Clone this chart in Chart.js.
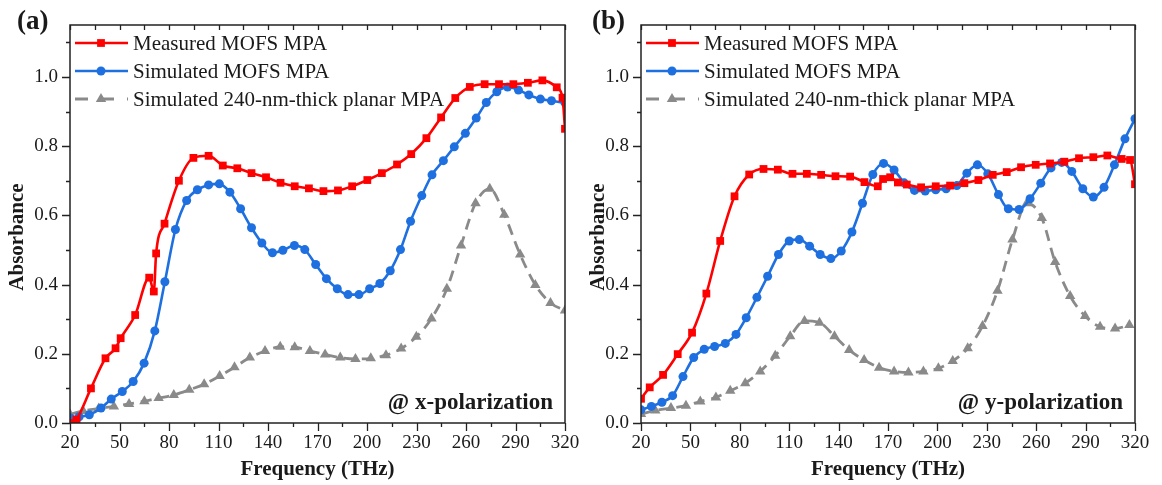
<!DOCTYPE html>
<html>
<head>
<meta charset="utf-8">
<script src="https://cdn.jsdelivr.net/npm/chart.js@4"></script>
<style>
  body { margin: 0; background: #fff; }
  .wrap { position: relative; width: 1162px; height: 485px; overflow: hidden; }
  canvas { display: block; position: absolute; top: 0; }
  #panelA { left: 0; }
  #panelB { left: 581px; }
</style>
</head>
<body>
<div class="wrap">
  <canvas id="panelA" width="600" height="485"></canvas>
  <canvas id="panelB" width="581" height="485"></canvas>
</div>
<script>
// ---- data (frequency in THz, absorbance) ----
// (a) x-polarization
const freqMeasA = [22, 24, 32.7, 41.5, 47.6, 50.7, 59.5, 68, 70.8, 72.2, 77.3, 86, 94.8, 104, 112.6, 121.4, 130, 138.8, 147.6, 156.2,
    164.8, 173.6, 182.4, 191, 200.2, 209, 218.2, 226.8, 236, 244.9, 253.5, 262.3, 271.3, 280, 288.7, 297.5, 306.3, 315, 318.5, 320];
const absMeasA = [0.0, 0.01, 0.10, 0.187, 0.216, 0.245, 0.312, 0.42, 0.38, 0.49, 0.576, 0.70, 0.766, 0.772, 0.744, 0.736, 0.722, 0.71, 0.694, 0.684,
    0.678, 0.67, 0.672, 0.684, 0.702, 0.722, 0.747, 0.777, 0.823, 0.883, 0.939, 0.971, 0.979, 0.979, 0.979, 0.983, 0.99, 0.97, 0.94, 0.85];

const freqSimA = [20, 25.5, 31.7, 38.8, 45, 51.7, 58.3, 64.9, 71.4, 77.5, 83.9, 90.7, 97.2, 104, 110.5, 116.9, 123.4, 130, 136.3, 142.7,
    149, 156, 162.3, 168.9, 175.4, 182, 188.5, 195.1, 201.6, 207.8, 214.1, 220.3, 226.4, 233.2, 239.4, 246.3, 252.9, 259.6, 266.2, 272.3,
    278.7, 285.2, 291.8, 298.1, 305.1, 311.8, 320];
const absSimA = [0.015, 0.018, 0.024, 0.043, 0.069, 0.091, 0.12, 0.173, 0.266, 0.408, 0.559, 0.643, 0.674, 0.688, 0.691, 0.667, 0.619, 0.564, 0.52, 0.492,
    0.499, 0.513, 0.501, 0.458, 0.417, 0.388, 0.371, 0.371, 0.388, 0.403, 0.44, 0.501, 0.583, 0.657, 0.717, 0.758, 0.798, 0.837, 0.881, 0.926,
    0.957, 0.971, 0.962, 0.948, 0.936, 0.931, 0.925];

const freqPlanarA = [20, 28, 37.4, 46.6, 55.8, 65.1, 73.7, 82.9, 92.3, 101.3, 110.7, 119.7, 129, 138.2, 147.4, 156.2, 165.4, 174.6, 183.8, 193,
    202.3, 211.5, 220.7, 229.9, 239.1, 248.4, 257, 265.8, 274.4, 283.2, 292.8, 302, 311.2, 320];
const absPlanarA = [0.025, 0.035, 0.042, 0.048, 0.055, 0.063, 0.072, 0.081, 0.096, 0.112, 0.136, 0.161, 0.189, 0.208, 0.22, 0.219, 0.208, 0.198, 0.189, 0.185,
    0.187, 0.196, 0.215, 0.249, 0.302, 0.388, 0.513, 0.635, 0.677, 0.602, 0.487, 0.399, 0.347, 0.325];

// (b) y-polarization
const freqMeasB = [20, 25.3, 33.4, 42.3, 51, 59.7, 68.1, 76.8, 85.7, 94.4, 103.1, 112, 120.7, 129.4, 138.1, 147, 155.7, 163.8, 167, 171.3,
    176, 181.4, 190.1, 199, 207.7, 216.4, 224.9, 233.6, 242.1, 250.8, 259.7, 268.4, 277.1, 286, 294.7, 303.2, 311.9, 317, 320];
const absMeasB = [0.07, 0.103, 0.139, 0.199, 0.261, 0.374, 0.526, 0.655, 0.718, 0.734, 0.732, 0.72, 0.72, 0.717, 0.713, 0.712, 0.696, 0.684, 0.705, 0.71,
    0.695, 0.689, 0.681, 0.684, 0.686, 0.693, 0.702, 0.717, 0.725, 0.739, 0.746, 0.75, 0.755, 0.765, 0.768, 0.773, 0.763, 0.76, 0.69];

const freqSimB = [20, 26.3, 32.7, 39.2, 45.5, 52, 58.4, 64.7, 71.2, 77.7, 83.9, 90.4, 96.9, 103.5, 110, 116.1, 122.4, 128.8, 135.3, 141.6,
    148.1, 154.5, 160.8, 167.3, 173.7, 179.8, 186.1, 192.6, 199, 205.3, 211.8, 217.9, 224.3, 230.6, 237.1, 243.1, 249.6, 256.3, 262.8, 269,
    275.5, 281.6, 288.3, 294.7, 301.2, 307.5, 313.9, 320];
const absSimB = [0.038, 0.048, 0.06, 0.079, 0.134, 0.189, 0.213, 0.221, 0.23, 0.256, 0.304, 0.363, 0.424, 0.487, 0.526, 0.53, 0.511, 0.487, 0.475, 0.497,
    0.552, 0.635, 0.718, 0.75, 0.731, 0.694, 0.672, 0.67, 0.674, 0.677, 0.686, 0.722, 0.746, 0.72, 0.66, 0.619, 0.617, 0.648, 0.693, 0.737,
    0.753, 0.727, 0.677, 0.653, 0.681, 0.746, 0.821, 0.879];

const freqPlanarB = [20, 28.7, 38.2, 47.3, 56, 65.5, 74.2, 83.3, 92.4, 101.5, 110.6, 119.3, 128.4, 137.5, 146.4, 155.5, 164.6, 173.7, 182.4, 191.5,
    200.6, 209.3, 218.4, 227.4, 236.5, 245.6, 254.3, 263.4, 271.5, 280.6, 289.7, 298.8, 307.9, 316.6];
const absPlanarB = [0.026, 0.036, 0.043, 0.05, 0.062, 0.074, 0.093, 0.115, 0.149, 0.194, 0.251, 0.295, 0.29, 0.251, 0.211, 0.182, 0.16, 0.149, 0.146, 0.149,
    0.158, 0.179, 0.216, 0.28, 0.382, 0.53, 0.635, 0.592, 0.465, 0.367, 0.309, 0.278, 0.273, 0.283];

const seriesLabels = ['Measured MOFS MPA', 'Simulated MOFS MPA', 'Simulated 240-nm-thick planar MPA'];
const freqTicks = [20, 50, 80, 110, 140, 170, 200, 230, 260, 290, 320];

// ---- styles ----
const serif = '"Liberation Serif", "Times New Roman", serif';
const inkColor = '#1a1a1a';
const seriesStyle = [
    {color: '#ff0000', point: 'rect', radius: 5.5, width: 2.6, dash: []},
    {color: '#1e6fe0', point: 'circle', radius: 4.5, width: 2.6, dash: []},
    {color: '#8a8a8a', point: 'triangle', radius: 6, width: 2.8, dash: [11, 7]}
];

function toPoints(xs, ys) {
    return xs.map((x, i) => ({x: x, y: ys[i]}));
}

function drawMarker(ctx, style, x, y) {
    const r = style.radius;
    ctx.beginPath();
    if (style.point === 'rect') {
        const s = Math.SQRT1_2 * r;
        ctx.rect(x - s, y - s, 2 * s, 2 * s);
    } else if (style.point === 'circle') {
        ctx.arc(x, y, r, 0, Math.PI * 2);
    } else {
        let rad = 0;
        ctx.moveTo(x + Math.sin(rad) * r, y - Math.cos(rad) * r);
        rad += 2 * Math.PI / 3;
        ctx.lineTo(x + Math.sin(rad) * r, y - Math.cos(rad) * r);
        rad += 2 * Math.PI / 3;
        ctx.lineTo(x + Math.sin(rad) * r, y - Math.cos(rad) * r);
        ctx.closePath();
    }
    ctx.fillStyle = style.color;
    ctx.fill();
}

// frame, minor ticks, legend, axis title, panel tag and polarization note
const decorPlugin = {
    id: 'decor',
    afterDraw(chart, args, opts) {
        const ctx = chart.ctx;
        const {left, right, top, bottom} = chart.chartArea;
        const xs = chart.scales.x, ys = chart.scales.y;
        ctx.save();
        ctx.strokeStyle = '#222';
        ctx.lineWidth = 1.5;
        ctx.setLineDash([]);
        ctx.strokeRect(left, top, right - left, bottom - top);

        ctx.lineWidth = 1.3;
        ctx.beginPath();
        for (let v = 20; v <= 320; v += 15) {
            const px = Math.round(xs.getPixelForValue(v)) + 0.5;
            const major = (v - 20) % 30 === 0;
            ctx.moveTo(px, bottom);
            ctx.lineTo(px, bottom + (major ? 8 : 4));
            ctx.moveTo(px, top);
            ctx.lineTo(px, top + 5);
        }
        for (let k = 0; k <= 11; k++) {
            const py = Math.round(ys.getPixelForValue(k / 10)) + 0.5;
            ctx.moveTo(left, py);
            ctx.lineTo(left - (k % 2 === 0 ? 8 : 4), py);
        }
        ctx.stroke();

        // legend inside the plot
        const rows = [top + 18, top + 46, top + 74];
        chart.data.datasets.forEach((ds, i) => {
            const st = seriesStyle[i];
            const y = rows[i];
            ctx.strokeStyle = st.color;
            ctx.lineWidth = st.width;
            ctx.setLineDash(i === 2 ? [13, 13] : []);
            ctx.beginPath();
            ctx.moveTo(left + 5, y);
            ctx.lineTo(left + 58, y);
            ctx.stroke();
            ctx.setLineDash([]);
            drawMarker(ctx, st, left + 31, y);
            ctx.fillStyle = inkColor;
            ctx.font = '21px ' + serif;
            ctx.textAlign = 'left';
            ctx.textBaseline = 'middle';
            ctx.fillText(ds.label, left + 63, y + 1);
        });

        ctx.fillStyle = inkColor;
        ctx.font = 'bold 23px ' + serif;
        ctx.textAlign = 'right';
        ctx.textBaseline = 'alphabetic';
        ctx.fillText(opts.note, right - 12, bottom - 14);

        // y axis title
        ctx.save();
        ctx.translate(opts.titleX, 237);
        ctx.rotate(-Math.PI / 2);
        ctx.font = 'bold 21px ' + serif;
        ctx.textAlign = 'center';
        ctx.textBaseline = 'middle';
        ctx.fillText('Absorbance', 0, 0);
        ctx.restore();

        ctx.font = 'bold 27px ' + serif;
        ctx.textAlign = 'left';
        ctx.textBaseline = 'middle';
        ctx.fillText(opts.tag, opts.tagX, 22);
        ctx.restore();
    }
};

function makePanel(canvasId, data, tag, tagX, note, leftWidth, rightPad) {
    const datasets = data.map((d, i) => ({
        label: seriesLabels[i],
        data: toPoints(d[0], d[1]),
        borderColor: seriesStyle[i].color,
        backgroundColor: seriesStyle[i].color,
        borderWidth: seriesStyle[i].width,
        borderDash: seriesStyle[i].dash,
        pointStyle: seriesStyle[i].point,
        pointRadius: seriesStyle[i].radius,
        pointBorderWidth: 0,
        pointBackgroundColor: seriesStyle[i].color,
        cubicInterpolationMode: 'monotone',
        fill: false,
        order: i // measured on top
    }));

    return new Chart(document.getElementById(canvasId), {
        type: 'line',
        data: {datasets: datasets},
        options: {
            responsive: false,
            animation: false,
            devicePixelRatio: 1,
            layout: {padding: {left: 0, right: rightPad, top: 25, bottom: 0}},
            plugins: {
                legend: {display: false},
                tooltip: {enabled: false},
                decor: {tag: tag, tagX: tagX, note: note, titleX: 18}
            },
            scales: {
                x: {
                    type: 'linear',
                    min: 20,
                    max: 320,
                    afterBuildTicks: (s) => { s.ticks = freqTicks.map(v => ({value: v})); },
                    afterFit: (s) => { s.height = 62; },
                    grid: {display: false, drawTicks: false},
                    border: {display: false},
                    ticks: {color: inkColor, font: {family: serif, size: 19}, padding: 9, maxRotation: 0},
                    title: {
                        display: true,
                        text: 'Frequency (THz)',
                        color: inkColor,
                        font: {family: serif, size: 21, weight: 'bold'},
                        padding: {top: 0, bottom: 3}
                    }
                },
                y: {
                    min: 0,
                    max: 1.15,
                    afterFit: (s) => { s.width = leftWidth; },
                    grid: {display: false, drawTicks: false},
                    border: {display: false},
                    ticks: {
                        stepSize: 0.2,
                        includeBounds: false,
                        color: inkColor,
                        font: {family: serif, size: 19},
                        padding: 12,
                        callback: (v) => v.toFixed(1)
                    }
                }
            }
        },
        plugins: [decorPlugin]
    });
}

makePanel('panelA',
    [[freqMeasA, absMeasA], [freqSimA, absSimA], [freqPlanarA, absPlanarA]],
    '(a)', 17, '@ x-polarization', 70, 35);
makePanel('panelB',
    [[freqMeasB, absMeasB], [freqSimB, absSimB], [freqPlanarB, absPlanarB]],
    '(b)', 11, '@ y-polarization', 60, 27);
</script>
</body>
</html>
